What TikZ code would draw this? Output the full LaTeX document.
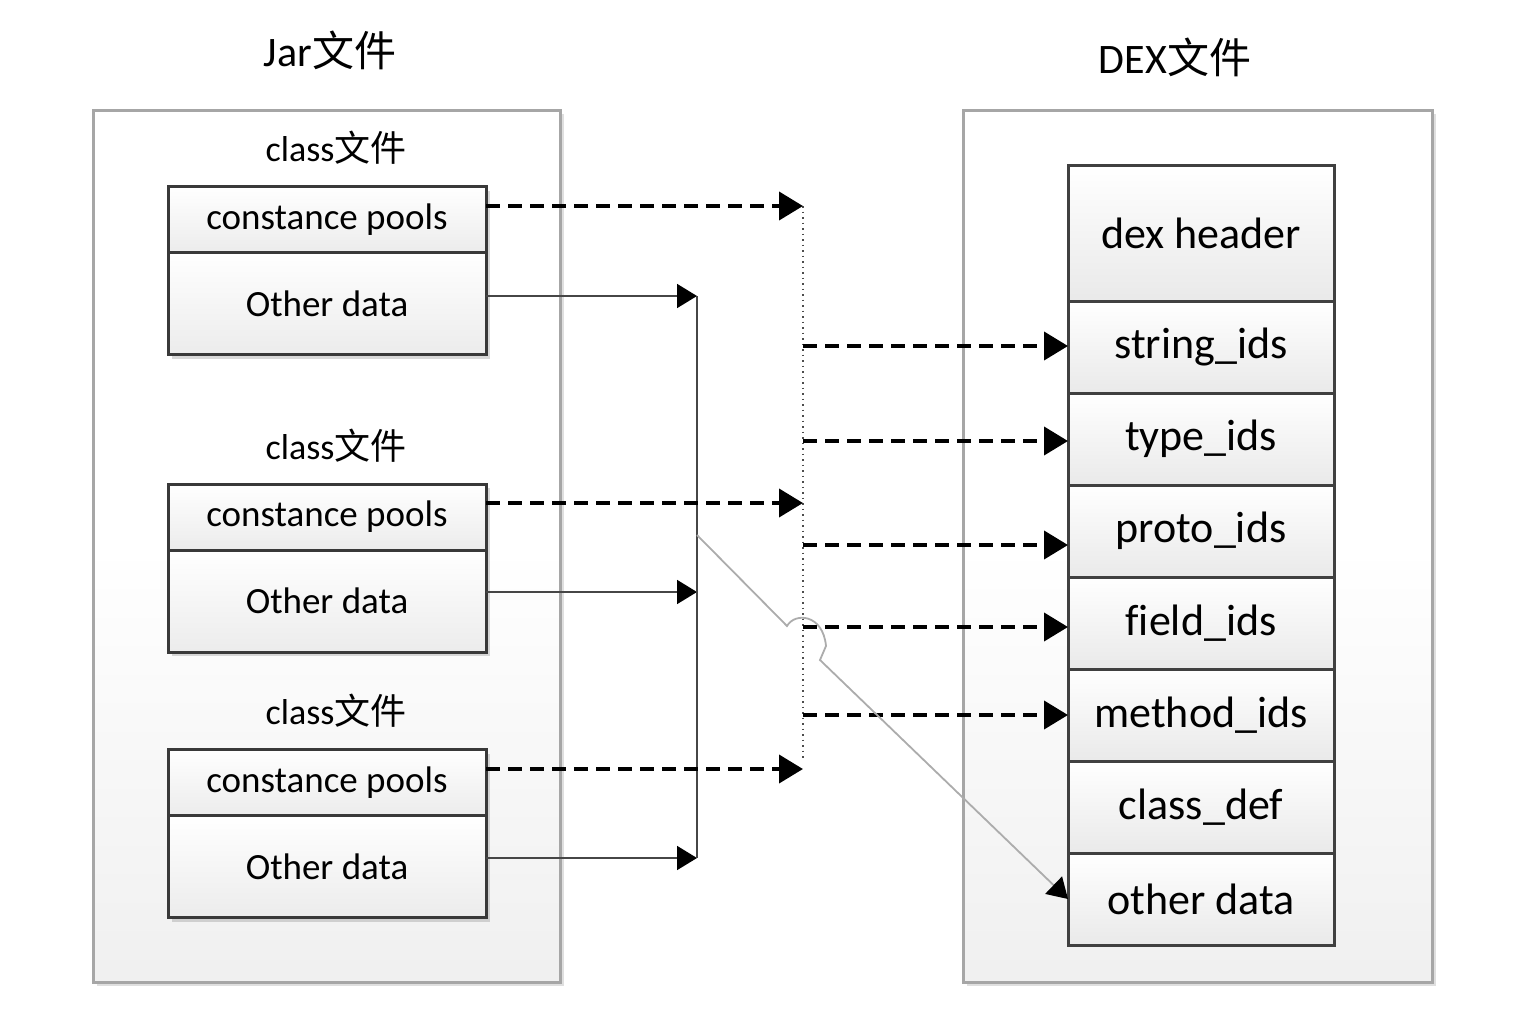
\documentclass[tikz,border=0pt]{standalone}
\usepackage{fontspec}
\setmainfont[Ligatures=NoCommon]{Carlito}
\newfontfamily\cjk{Noto Sans CJK SC}
\usetikzlibrary{positioning,arrows.meta,shadows}

\tikzset{every picture/.style={line width=0.75pt}}
\tikzset{
  panel/.style={draw=gray!70, line width=1.5pt, top color=white, bottom color=gray!12, middle color=white,
    inner sep=0pt, outer sep=0pt, drop shadow={shadow xshift=2pt, shadow yshift=-2pt, opacity=.25}},
  classcell/.style={draw=gray!45!black, line width=1.5pt, top color=white, bottom color=gray!15,
    minimum width=159pt, inner sep=0pt, outer sep=0pt, font=\fontsize{18.5}{22}\selectfont,
    drop shadow={shadow xshift=2pt, shadow yshift=-2pt, opacity=.3}},
  cpcell/.style={classcell, minimum height=33pt},
  odcell/.style={classcell, minimum height=51pt},
  dexcell/.style={draw=gray!50!black, line width=1.5pt, top color=white, bottom color=gray!17,
    minimum width=133pt, minimum height=46pt, inner sep=0pt, outer sep=0pt, font=\fontsize{22}{26}\selectfont},
  title/.style={font=\fontsize{21}{25}\selectfont},
  sublabel/.style={font=\fontsize{18}{22}\selectfont},
  cparrow/.style={draw=black, line width=2pt, dash pattern=on 7pt off 4pt, -{Triangle[length=12pt,width=14pt]}},
  odarrow/.style={draw=gray!55!black, line width=0.9pt, -{Triangle[length=10pt,width=12pt,color=black]}},
  busline/.style={draw=gray!60!black, line width=0.75pt, dotted}
}

\begin{document}
\begin{tikzpicture}[x=0.5pt,y=0.5pt,yscale=-1,xscale=1]
\useasboundingbox (0,0) rectangle (1539,1013);

%Shape: panels
\node[panel, minimum width=233.5pt, minimum height=436pt] (jar) at (326.5,546) {};
\node[panel, minimum width=234.5pt, minimum height=436pt] (dex) at (1197.5,546) {};

% Text Node
\node[title] (jartitle) at (330,50) {Jar{\cjk 文件}};
% Text Node
\node[title] (dextitle) at (1175,57) {DEX{\cjk 文件}};

% Text Node
\node[sublabel] (cls1) at (336,148) {class{\cjk 文件}};
\node[sublabel] (cls2) at (336,446) {class{\cjk 文件}};
\node[sublabel] (cls3) at (336,711) {class{\cjk 文件}};

%Shape: class files
\node[cpcell] (cp1) at (327,219.5) {constance pools};
\node[odcell, below=0pt of cp1] (od1) {Other data};
\node[cpcell] (cp2) at (327,517) {constance pools};
\node[odcell, below=0pt of cp2] (od2) {Other data};
\node[cpcell] (cp3) at (327,782.5) {constance pools};
\node[odcell, below=0pt of cp3] (od3) {Other data};

%Shape: dex file
\node[dexcell, minimum height=68pt] (header) at (1201,233) {dex header};
\node[dexcell, below=0pt of header] (strids) {string\_ids};
\node[dexcell, below=0pt of strids] (typeids) {type\_ids};
\node[dexcell, below=0pt of typeids] (protoids) {proto\_ids};
\node[dexcell, below=0pt of protoids] (fieldids) {field\_ids};
\node[dexcell, below=0pt of fieldids] (methodids) {method\_ids};
\node[dexcell, below=0pt of methodids] (classdef) {class\_def};
\node[dexcell, below=0pt of classdef] (other) {other data};

% bus points
\coordinate (bus1) at (803,206);
\coordinate (bus2) at (803,503);
\coordinate (bus3) at (803,769);
\coordinate (busend) at (803,760);
\coordinate (d1) at (803,346);
\coordinate (d2) at (803,441);
\coordinate (d3) at (803,545);
\coordinate (d4) at (803,627);
\coordinate (d5) at (803,715);
\coordinate (hub1) at (697,296);
\coordinate (hub2) at (697,592);
\coordinate (hub3) at (697,858);
\coordinate (tap) at (697,535);

%Straight Lines: other data
\draw[odarrow] (hub1 -| od1.east) -- (hub1);
\draw[odarrow] (hub2 -| od2.east) -- (hub2);
\draw[odarrow] (hub3 -| od3.east) -- (hub3);
\draw[draw=gray!55!black, line width=0.9pt] (hub1) -- (hub3);

%Straight Lines: constant pools
\draw[busline] (bus1) -- (busend);
\draw[cparrow] (bus1 -| cp1.east) -- (bus1);
\draw[cparrow] (bus2 -| cp2.east) -- (bus2);
\draw[cparrow] (bus3 -| cp3.east) -- (bus3);
\draw[cparrow] (d1) -- (d1 -| strids.west);
\draw[cparrow] (d2) -- (d2 -| typeids.west);
\draw[cparrow] (d3) -- (d3 -| protoids.west);
\draw[cparrow] (d4) -- (d4 -| fieldids.west);
\draw[cparrow] (d5) -- (d5 -| methodids.west);

%Curve Lines: to other data
\draw[odarrow, draw=gray!65] (tap) -- (787,626) .. controls (795,612) and (823,614) .. (826,646) -- (820,660) -- (other.west);

\end{tikzpicture}
\end{document}
